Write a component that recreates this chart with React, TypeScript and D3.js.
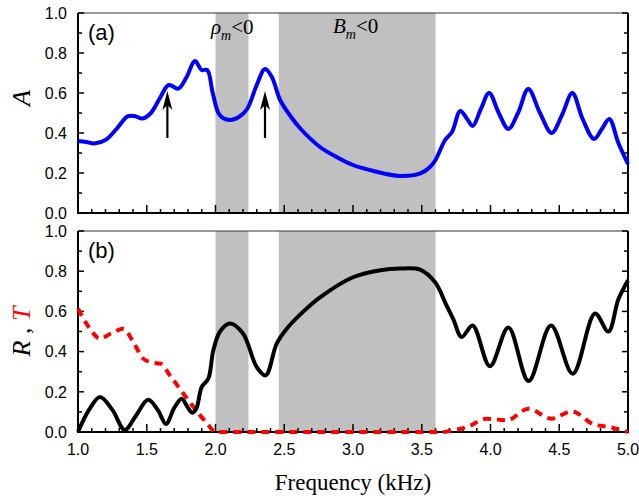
import React from "react";
import * as d3 from "d3";

// ---- Data ----
const freqA = [1.0, 1.06, 1.12, 1.2, 1.28, 1.36, 1.41, 1.47, 1.53, 1.6, 1.66, 1.73, 1.79, 1.85, 1.9, 1.94, 1.98, 2.03, 2.1, 2.17, 2.23, 2.3, 2.36, 2.41, 2.47, 2.55, 2.62, 2.76, 2.88, 3.0, 3.15, 3.34, 3.49, 3.56, 3.6, 3.67, 3.72, 3.78, 3.83, 3.87, 3.93, 3.99, 4.06, 4.13, 4.2, 4.275, 4.36, 4.445, 4.52, 4.595, 4.67, 4.753, 4.81, 4.864, 4.93, 5.0];
const absorptance = [0.36, 0.355, 0.348, 0.365, 0.42, 0.483, 0.485, 0.472, 0.5, 0.58, 0.64, 0.622, 0.68, 0.76, 0.715, 0.715, 0.6, 0.49, 0.465, 0.48, 0.52, 0.64, 0.72, 0.68, 0.565, 0.48, 0.42, 0.33, 0.28, 0.24, 0.21, 0.185, 0.198, 0.23, 0.265, 0.365, 0.405, 0.51, 0.47, 0.435, 0.52, 0.6, 0.5, 0.42, 0.5, 0.62, 0.5, 0.4, 0.49, 0.6, 0.47, 0.37, 0.42, 0.47, 0.35, 0.245];

const freqR = [1.0, 1.08, 1.16, 1.25, 1.34, 1.42, 1.51, 1.58, 1.64, 1.7, 1.754, 1.8, 1.83, 1.86, 1.9, 1.948, 1.984, 2.033, 2.105, 2.2, 2.3, 2.365, 2.445, 2.518, 2.64, 2.76, 3.0, 3.2, 3.342, 3.487, 3.596, 3.68, 3.73, 3.79, 3.87, 3.996, 4.13, 4.277, 4.44, 4.598, 4.76, 4.857, 4.93, 5.0];
const reflectance = [0.0, 0.11, 0.174, 0.11, 0.01, 0.08, 0.16, 0.11, 0.04, 0.12, 0.166, 0.12, 0.096, 0.116, 0.224, 0.266, 0.406, 0.5, 0.54, 0.49, 0.323, 0.282, 0.44, 0.514, 0.6, 0.67, 0.77, 0.805, 0.813, 0.808, 0.746, 0.63, 0.56, 0.473, 0.53, 0.327, 0.52, 0.254, 0.53, 0.29, 0.59, 0.5, 0.66, 0.755];

const freqT = [1.0, 1.08, 1.16, 1.24, 1.33, 1.4, 1.475, 1.54, 1.6, 1.67, 1.74, 1.84, 1.94, 2.0, 3.65, 3.7, 3.83, 3.97, 4.12, 4.275, 4.445, 4.59, 4.75, 4.86, 5.0];
const transmittance = [0.614, 0.52, 0.465, 0.49, 0.514, 0.45, 0.365, 0.345, 0.34, 0.28, 0.216, 0.124, 0.042, 0.0, 0.0, 0.005, 0.025, 0.066, 0.058, 0.116, 0.066, 0.103, 0.038, 0.025, 0.0];

const bands = [
  [2.0, 2.24],
  [2.46, 3.6],
];
const arrowFreqs = [1.65, 2.36];
const arrowRange = [0.375, 0.61];
const xTickLabels = ["1.0", "1.5", "2.0", "2.5", "3.0", "3.5", "4.0", "4.5", "5.0"];
const yTickLabels = ["0.0", "0.2", "0.4", "0.6", "0.8", "1.0"];

// ---- Layout ----
const W = 639;
const H = 500;
const left = 78;
const right = 628;
const aTop = 13;
const aBottom = 213;
const bTop = 231;
const bBottom = 432;

const x = d3.scaleLinear().domain([1, 5]).range([left, right]);
const yA = d3.scaleLinear().domain([0, 1]).range([aBottom, aTop]);
const yB = d3.scaleLinear().domain([0, 1]).range([bBottom, bTop]);

const sans = "'Liberation Sans', Arial, sans-serif";
const serif = "'Liberation Serif', 'Times New Roman', serif";

function Panel({ y, top, bottom, showLabels, label }: any) {
  const minorX = d3.range(10, 51).map((v) => v / 10);
  const minorY = d3.range(0, 11).map((v) => v / 10);
  return (
    <g>
      {bands.map((b, i) => (
        <rect key={i} x={x(b[0])} y={top} width={x(b[1]) - x(b[0])} height={bottom - top} fill="#c0c0c0" />
      ))}
      {/* frame */}
      <line x1={left} x2={right} y1={top} y2={top} stroke="#333" strokeWidth={1.2} />
      <line x1={left} x2={left} y1={top} y2={bottom} stroke="#000" strokeWidth={2} />
      <line x1={right} x2={right} y1={top} y2={bottom} stroke="#000" strokeWidth={2} />
      <line x1={left - 1} x2={right + 1} y1={bottom} y2={bottom} stroke="#000" strokeWidth={2} />
      {/* bottom ticks */}
      {minorX.map((v, i) => {
        const major = Math.abs(v * 2 - Math.round(v * 2)) < 1e-6;
        return (
          <line key={"bx" + i} x1={x(v)} x2={x(v)} y1={bottom} y2={bottom - (major ? 8 : 4)} stroke="#000" strokeWidth={1.5} />
        );
      })}
      {/* left/right ticks */}
      {minorY.map((v, i) => {
        const major = i % 2 === 0;
        const len = major ? 6 : 4;
        return (
          <g key={"yt" + i}>
            <line x1={left} x2={left + len} y1={y(v)} y2={y(v)} stroke="#000" strokeWidth={1.5} />
            <line x1={right} x2={right - len} y1={y(v)} y2={y(v)} stroke="#000" strokeWidth={1.5} />
          </g>
        );
      })}
      {yTickLabels.map((t) => (
        <text key={"yl" + t} x={67} y={y(+t)} dy="0.36em" textAnchor="end" fontFamily={sans} fontSize={16} fill="#000">
          {t}
        </text>
      ))}
      {showLabels &&
        xTickLabels.map((t) => (
          <text key={"xl" + t} x={x(+t)} y={455} textAnchor="middle" fontFamily={sans} fontSize={16} fill="#000">
            {t}
          </text>
        ))}
      <text x={88} y={top + 27} fontFamily={sans} fontSize={22} fill="#000">
        {label}
      </text>
    </g>
  );
}

export default function App() {
  const lineA = d3
    .line<number>()
    .x((_, i) => x(freqA[i]))
    .y((d) => yA(d))
    .curve(d3.curveCatmullRom.alpha(0.5));
  const lineR = d3
    .line<number>()
    .x((_, i) => x(freqR[i]))
    .y((d) => yB(d))
    .curve(d3.curveCatmullRom.alpha(0.5));
  const lineT = d3
    .line<number>()
    .x((_, i) => x(freqT[i]))
    .y((d) => yB(d))
    .curve(d3.curveMonotoneX);

  return (
    <svg width={W} height={H} style={{ position: "absolute", left: 0, top: 0, background: "#fff" }}>
      <Panel y={yA} top={aTop} bottom={aBottom} showLabels={false} label="(a)" />
      <Panel y={yB} top={bTop} bottom={bBottom} showLabels={true} label="(b)" />

      <path d={lineA(absorptance) || ""} fill="none" stroke="#0000ff" strokeWidth={4} strokeLinejoin="round" />
      <path d={lineT(transmittance) || ""} fill="none" stroke="#ff0000" strokeWidth={4} strokeDasharray="8,6" />
      <path d={lineR(reflectance) || ""} fill="none" stroke="#000" strokeWidth={4} strokeLinejoin="round" />

      {arrowFreqs.map((f, i) => {
        const ax = x(f);
        const y0 = yA(arrowRange[0]);
        const y1 = yA(arrowRange[1]);
        return (
          <g key={"ar" + i}>
            <line x1={ax} x2={ax} y1={y0} y2={y1 + 12} stroke="#000" strokeWidth={2.2} />
            <path d={`M${ax},${y1} L${ax - 5},${y1 + 19} L${ax},${y1 + 14} L${ax + 5},${y1 + 19} Z`} fill="#000" />
          </g>
        );
      })}

      {/* band labels */}
      <text x={211} y={34} fontFamily={serif} fontSize={21} fill="#000">
        <tspan fontStyle="italic">ρ</tspan>
        <tspan fontStyle="italic" fontSize={14} dy={6}>m</tspan>
        <tspan dy={-6}>&lt;0</tspan>
      </text>
      <text x={333} y={33} fontFamily={serif} fontSize={21} fill="#000">
        <tspan fontStyle="italic">B</tspan>
        <tspan fontStyle="italic" fontSize={14} dy={6}>m</tspan>
        <tspan dy={-6}>&lt;0</tspan>
      </text>

      {/* axis titles */}
      <text transform={`translate(30, ${(aTop + aBottom) / 2 - 15}) rotate(-90)`} textAnchor="middle" fontFamily={serif} fontStyle="italic" fontSize={26} fill="#000">
        A
      </text>
      <text transform={`translate(30, ${(bTop + bBottom) / 2}) rotate(-90)`} textAnchor="middle" fontFamily={serif} fontSize={26} fill="#000">
        <tspan fontStyle="italic">R</tspan>
        <tspan> , </tspan>
        <tspan fontStyle="italic" fill="#ff0000">T</tspan>
      </text>
      <text x={(left + right) / 2} y={490} textAnchor="middle" fontFamily={serif} fontSize={23} fill="#000">
        Frequency (kHz)
      </text>
    </svg>
  );
}
